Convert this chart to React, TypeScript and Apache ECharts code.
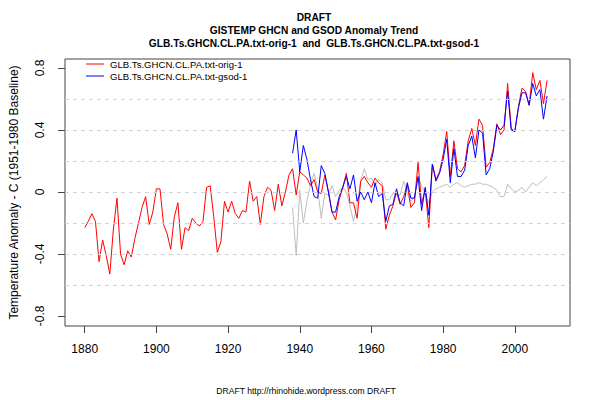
import React, { useEffect, useRef } from "react";
import * as echarts from "echarts";

const RED_NAME = "GLB.Ts.GHCN.CL.PA.txt-orig-1";
const BLUE_NAME = "GLB.Ts.GHCN.CL.PA.txt-gsod-1";

const RED_START = 1880;
const RED = [
  -0.23, -0.19, -0.14, -0.19, -0.45, -0.31, -0.41, -0.53, -0.24, -0.04,
  -0.40, -0.47, -0.38, -0.42, -0.30, -0.20, -0.10, -0.03, -0.21, -0.13,
  0.02, 0.02, -0.21, -0.27, -0.37, -0.16, -0.07, -0.37, -0.23, -0.25,
  -0.17, -0.20, -0.22, -0.19, 0.03, 0.04, -0.16, -0.39, -0.32, -0.06,
  -0.13, -0.06, -0.14, -0.17, -0.12, -0.13, 0.07, -0.06, -0.03, -0.21,
  -0.03, 0.03, 0.01, -0.12, 0.05, -0.09, 0.00, 0.11, 0.15, -0.02,
  0.13, 0.11, 0.09, 0.04, 0.08, 0.00, -0.01, 0.11, 0.00, -0.13,
  -0.18, -0.05, 0.03, 0.12, -0.07, -0.07, -0.17, 0.07, 0.10, 0.06,
  0.03, 0.09, 0.06, 0.04, -0.24, -0.15, -0.09, 0.00, -0.08, -0.03,
  0.05, -0.10, -0.07, 0.19, -0.08, 0.02, -0.23, 0.18, 0.08, 0.13,
  0.24, 0.39, 0.10, 0.33, 0.15, 0.13, 0.17, 0.33, 0.41, 0.30,
  0.47, 0.43, 0.16, 0.19, 0.28, 0.44, 0.37, 0.40, 0.70, 0.41,
  0.39, 0.55, 0.67, 0.65, 0.56, 0.77, 0.66, 0.72, 0.57, 0.72,
];

const BLUE_START = 1938;
const BLUE = [
  0.25, 0.40,
  0.13, 0.30, 0.21, 0.08, -0.03, -0.04, 0.17, 0.12, 0.00, -0.13,
  -0.13, -0.03, 0.03, 0.10, 0.02, 0.11, -0.06, 0.00, -0.05, 0.00,
  -0.07, 0.06, -0.03, -0.01, -0.19, -0.09, -0.08, 0.02, -0.07, -0.09,
  0.06, -0.04, -0.04, 0.10, -0.12, 0.03, -0.15, 0.18, 0.07, 0.12,
  0.21, 0.34, 0.06, 0.28, 0.10, 0.10, 0.14, 0.30, 0.36, 0.22,
  0.40, 0.38, 0.11, 0.15, 0.26, 0.43, 0.40, 0.43, 0.65, 0.40,
  0.39, 0.54, 0.64, 0.64, 0.56, 0.70, 0.62, 0.66, 0.47, 0.62,
];

const GRAY_START = 1938;
const GRAY = [
  -0.10, -0.41,
  0.01, -0.20, -0.06, 0.05, 0.12, 0.02, -0.17, -0.01, -0.02, 0.04,
  -0.03, 0.01, 0.03, 0.00, -0.09, -0.19, -0.08, 0.07, 0.15, 0.08,
  0.09, 0.04, 0.08, 0.06, -0.05, -0.05, -0.01, -0.02, -0.02, 0.07,
  -0.01, -0.06, -0.03, 0.09, 0.04, -0.01, -0.07, 0.00, 0.02, 0.03,
  0.04, 0.05, 0.03, 0.05, 0.06, 0.04, 0.03, 0.04, 0.05, 0.05,
  0.06, 0.05, 0.05, 0.04, 0.03, 0.01, -0.03, -0.03, 0.05, 0.02,
  0.00, 0.01, 0.03, 0.00, 0.03, 0.06, 0.04, 0.06, 0.08, 0.10,
];

const X_TICKS = [1880, 1900, 1920, 1940, 1960, 1980, 2000];
const Y_TICKS = [-0.8, -0.4, 0, 0.4, 0.8];
const GRID_LINES = [-0.6, -0.4, -0.2, 0, 0.2, 0.4, 0.6];

const TITLES = [
  "DRAFT",
  "GISTEMP GHCN and GSOD Anomaly Trend",
  "GLB.Ts.GHCN.CL.PA.txt-orig-1  and  GLB.Ts.GHCN.CL.PA.txt-gsod-1",
];
const FOOTER = "DRAFT http://rhinohide.wordpress.com DRAFT";
const Y_NAME = "Temperature Anomaly - C (1951-1980 Baseline)";

const FONT = "'Liberation Sans', Arial, Helvetica, sans-serif";

function toPairs(start: number, vals: number[]) {
  return vals.map((v, i) => [start + i, v]);
}

export default function App() {
  const ref = useRef<HTMLDivElement>(null);
  useEffect(() => {
    if (!ref.current) return;
    const chart = echarts.init(ref.current, undefined, { renderer: "svg" });
    const titleGraphics = TITLES.map((t, i) => ({
      type: "text",
      x: 314,
      y: 17 + i * 13,
      style: {
        text: t,
        font: `bold 10.2px ${FONT}`,
        fill: "#000",
        textAlign: "center",
        textVerticalAlign: "middle",
        align: "center",
        verticalAlign: "middle",
      },
    }));
    const legendItems = [
      { name: RED_NAME, color: "#FF0000", y: 64 },
      { name: BLUE_NAME, color: "#0000FF", y: 76 },
    ];
    const legendGraphics: any[] = [];
    legendItems.forEach((it) => {
      legendGraphics.push({
        type: "line",
        shape: { x1: 86, y1: it.y, x2: 104, y2: it.y },
        style: { stroke: it.color, lineWidth: 1 },
      });
      legendGraphics.push({
        type: "text",
        x: 110,
        y: it.y,
        style: {
          text: it.name,
          font: `9.6px ${FONT}`,
          fill: "#000",
          textAlign: "left",
          textVerticalAlign: "middle",
          align: "left",
          verticalAlign: "middle",
        },
      });
    });
    const option: any = {
      animation: false,
      backgroundColor: "#ffffff",
      textStyle: { fontFamily: FONT },
      grid: {
        left: 59,
        right: 30,
        top: 59,
        bottom: 74,
        show: true,
        borderColor: "#444",
        borderWidth: 1,
        backgroundColor: "transparent",
        containLabel: false,
      },
      xAxis: {
        type: "value",
        min: 1874.5,
        max: 2015.4,
        axisLine: { show: false, onZero: false },
        splitLine: { show: false },
        axisTick: {
          show: true,
          inside: false,
          length: 7,
          lineStyle: { color: "#444" },
          customValues: X_TICKS,
        },
        axisLabel: {
          show: true,
          margin: 17,
          fontSize: 12,
          color: "#000",
          fontFamily: FONT,
          customValues: X_TICKS,
          formatter: (v: number) => String(v),
        },
      },
      yAxis: {
        type: "value",
        min: -0.865,
        max: 0.858,
        name: Y_NAME,
        nameLocation: "middle",
        nameGap: 45,
        nameTextStyle: { fontSize: 12, color: "#000", fontFamily: FONT },
        axisLine: { show: false, onZero: false },
        splitLine: { show: false },
        axisTick: {
          show: true,
          inside: false,
          length: 7,
          lineStyle: { color: "#444" },
          customValues: Y_TICKS,
        },
        axisLabel: {
          show: true,
          rotate: 90,
          margin: 19,
          fontSize: 12,
          color: "#000",
          fontFamily: FONT,
          customValues: Y_TICKS,
          formatter: (v: number) => (Math.abs(v) < 1e-9 ? "0" : String(v)),
        },
      },
      series: [
        {
          type: "line",
          name: "grid",
          data: [],
          silent: true,
          z: 1,
          markLine: {
            silent: true,
            symbol: ["none", "none"],
            label: { show: false },
            lineStyle: { color: "#D3D3D3", type: [4, 4], width: 1 },
            data: GRID_LINES.map((v) => ({ yAxis: v })),
          },
        },
        {
          type: "line",
          name: "diff",
          data: toPairs(GRAY_START, GRAY),
          showSymbol: false,
          symbol: "none",
          lineStyle: { color: "#BEBEBE", width: 1 },
          itemStyle: { color: "#BEBEBE" },
          z: 2,
        },
        {
          type: "line",
          name: RED_NAME,
          data: toPairs(RED_START, RED),
          showSymbol: false,
          symbol: "none",
          lineStyle: { color: "#FF0000", width: 1 },
          itemStyle: { color: "#FF0000" },
          z: 3,
        },
        {
          type: "line",
          name: BLUE_NAME,
          data: toPairs(BLUE_START, BLUE),
          showSymbol: false,
          symbol: "none",
          lineStyle: { color: "#0000FF", width: 1 },
          itemStyle: { color: "#0000FF" },
          z: 4,
        },
      ],
      graphic: [
        ...titleGraphics,
        ...legendGraphics,
        {
          type: "text",
          x: 306,
          y: 391,
          style: {
            text: FOOTER,
            font: `8.6px ${FONT}`,
            fill: "#000",
            textAlign: "center",
            textVerticalAlign: "middle",
            align: "center",
            verticalAlign: "middle",
          },
        },
      ],
    };
    chart.setOption(option);
    return () => chart.dispose();
  }, []);
  return (
    <div
      ref={ref}
      style={{ position: "absolute", left: 0, top: 0, width: 600, height: 400, background: "#fff" }}
    />
  );
}
